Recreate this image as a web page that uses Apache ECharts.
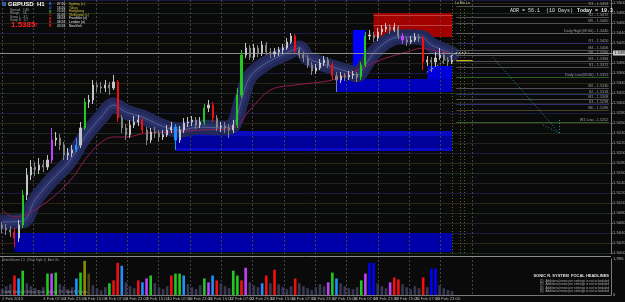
<!DOCTYPE html>
<html><head><meta charset="utf-8">
<script src="https://cdn.jsdelivr.net/npm/echarts@6/dist/echarts.min.js"></script>
<style>html,body{margin:0;padding:0;background:#0a0a0a;}#c{width:625px;height:302px;}</style>
</head><body><div id="c"></div>
<script>
// ---------- DATA ----------
const dateLabels = ['2 Feb 2015','3 Feb 15:00','4 Feb 07:00','4 Feb 23:00','5 Feb 15:00','6 Feb 07:00','6 Feb 23:00','9 Feb 15:00','10 Feb 07:00','10 Feb 23:00','11 Feb 15:00','12 Feb 07:00','12 Feb 23:00','13 Feb 15:00','16 Feb 07:00','16 Feb 23:00','17 Feb 15:00','18 Feb 07:00','18 Feb 23:00','19 Feb 15:00','20 Feb 07:00','20 Feb 23:00'];
const totalSlots = 148;
const opens = [1.5056,1.5050,1.5046,1.5042,1.5030,1.5056,1.5116,1.5156,1.5172,1.5166,
 1.5176,1.5172,1.5186,1.5226,1.5230,1.5216,1.5196,1.5200,1.5206,1.5216,
 1.5250,1.5302,1.5306,1.5336,1.5332,1.5330,1.5336,1.5330,1.5342,1.5270,
 1.5250,1.5236,1.5256,1.5262,1.5266,1.5246,1.5226,1.5242,1.5240,1.5232,
 1.5236,1.5246,1.5252,1.5226,1.5246,1.5260,1.5262,1.5266,1.5256,1.5262,
 1.5290,1.5296,1.5270,1.5252,1.5254,1.5250,1.5246,1.5256,1.5316,1.5396,
 1.5410,1.5392,1.5410,1.5400,1.5416,1.5402,1.5398,1.5402,1.5406,1.5410,
 1.5422,1.5434,1.5406,1.5396,1.5390,1.5376,1.5364,1.5370,1.5380,1.5386,
 1.5376,1.5354,1.5346,1.5354,1.5352,1.5356,1.5358,1.5352,1.5376,1.5434,
 1.5436,1.5430,1.5442,1.5448,1.5452,1.5446,1.5452,1.5434,1.5426,1.5422,
 1.5426,1.5432,1.5430,1.5382,1.5386,1.5382,1.5390,1.5396,1.5386,1.5382];
const closes = [1.5050,1.5046,1.5042,1.5030,1.5056,1.5116,1.5156,1.5172,1.5166,1.5176,
 1.5172,1.5186,1.5226,1.5230,1.5216,1.5196,1.5200,1.5206,1.5216,1.5250,
 1.5302,1.5306,1.5336,1.5332,1.5330,1.5336,1.5330,1.5342,1.5270,1.5250,
 1.5236,1.5256,1.5262,1.5266,1.5246,1.5226,1.5242,1.5240,1.5232,1.5236,
 1.5246,1.5252,1.5226,1.5246,1.5260,1.5262,1.5266,1.5256,1.5262,1.5290,
 1.5296,1.5270,1.5252,1.5254,1.5250,1.5246,1.5256,1.5316,1.5396,1.5410,
 1.5392,1.5410,1.5400,1.5416,1.5402,1.5398,1.5402,1.5406,1.5410,1.5422,
 1.5434,1.5406,1.5396,1.5390,1.5376,1.5364,1.5370,1.5380,1.5386,1.5376,
 1.5354,1.5346,1.5354,1.5352,1.5356,1.5358,1.5352,1.5376,1.5434,1.5436,
 1.5430,1.5442,1.5448,1.5452,1.5446,1.5452,1.5434,1.5426,1.5422,1.5426,
 1.5432,1.5430,1.5382,1.5386,1.5382,1.5390,1.5396,1.5386,1.5382,1.53857];
const lows = [1.5040,1.5036,1.5032,1.5012,1.5022,1.5050,1.5106,1.5146,1.5154,1.5158,
 1.5162,1.5166,1.5180,1.5214,1.5206,1.5186,1.5186,1.5192,1.5202,1.5210,
 1.5246,1.5290,1.5298,1.5322,1.5320,1.5322,1.5316,1.5326,1.5262,1.5240,
 1.5226,1.5230,1.5250,1.5254,1.5238,1.5216,1.5220,1.5230,1.5222,1.5226,
 1.5232,1.5240,1.5206,1.5220,1.5240,1.5252,1.5254,1.5248,1.5250,1.5256,
 1.5282,1.5262,1.5244,1.5242,1.5240,1.5230,1.5240,1.5250,1.5310,1.5390,
 1.5386,1.5386,1.5392,1.5394,1.5396,1.5390,1.5392,1.5394,1.5398,1.5406,
 1.5418,1.5400,1.5390,1.5382,1.5370,1.5356,1.5358,1.5366,1.5374,1.5370,
 1.5346,1.5322,1.5340,1.5344,1.5346,1.5348,1.5342,1.5346,1.5372,1.5426,
 1.5422,1.5424,1.5436,1.5442,1.5438,1.5442,1.5428,1.5418,1.5414,1.5418,
 1.5422,1.5422,1.5366,1.5374,1.5362,1.5374,1.5386,1.5378,1.5374,1.5378];
const highs = [1.5062,1.5058,1.5054,1.5050,1.5066,1.5126,1.5170,1.5186,1.5182,1.5190,
 1.5186,1.5196,1.5250,1.5242,1.5238,1.5222,1.5210,1.5216,1.5230,1.5262,
 1.5310,1.5316,1.5346,1.5342,1.5342,1.5346,1.5342,1.5356,1.5346,1.5276,
 1.5258,1.5266,1.5274,1.5276,1.5270,1.5252,1.5250,1.5252,1.5246,1.5246,
 1.5256,1.5262,1.5258,1.5254,1.5270,1.5272,1.5274,1.5272,1.5272,1.5298,
 1.5306,1.5302,1.5276,1.5262,1.5262,1.5258,1.5266,1.5330,1.5406,1.5420,
 1.5416,1.5418,1.5416,1.5424,1.5422,1.5410,1.5410,1.5412,1.5418,1.5430,
 1.5440,1.5438,1.5412,1.5402,1.5396,1.5382,1.5378,1.5388,1.5394,1.5392,
 1.5382,1.5362,1.5362,1.5360,1.5364,1.5364,1.5362,1.5382,1.5442,1.5446,
 1.5442,1.5450,1.5456,1.5460,1.5458,1.5460,1.5456,1.5440,1.5432,1.5434,
 1.5440,1.5438,1.5434,1.5394,1.5392,1.5402,1.5410,1.5402,1.5392,1.5396];
const candleHiIdx = [3,5,12,18,20,28,34,42,49,51,57,58,71,80,87,88,97,102];
const candleHiCol = ['R','G','M','B','G','R','R','B','G','R','G','G','R','R','G','G','M','R'];

const bandIdx = [0,5,8,12,16,20,24,27,30,34,37,40,43,46,48,53,56,58,60,64,69,72,74,77,80,84,86,88,90,93,96,100,102,104,108,109];
const bandVal = [1.5062,1.5064,1.5106,1.5146,1.5180,1.5232,1.5272,1.5296,1.5282,1.5272,1.5260,1.5250,1.5246,1.5250,1.5252,1.5250,1.5256,1.5306,1.5352,1.5380,1.5400,1.5410,1.5390,1.5380,1.5372,1.5362,1.5356,1.5376,1.5400,1.5422,1.5432,1.5432,1.5430,1.5416,1.5402,1.5398];
const maIdx = [0,3,8,16,22,27,30,35,41,48,56,60,65,71,80,87,93,98,102,104,108,109];
const maVal = [1.5086,1.5072,1.5086,1.5140,1.5206,1.5232,1.5232,1.5240,1.5242,1.5246,1.5250,1.5286,1.5326,1.5336,1.5346,1.5370,1.5390,1.5402,1.5410,1.5406,1.5400,1.5398];

const volumes = [324,486,594,1080,918,1350,648,486,378,270,
 432,1188,1188,1242,594,486,324,432,918,1242,
 1890,1188,540,378,270,432,648,810,1782,1620,
 702,486,378,810,702,918,1080,648,432,324,
 486,1080,1188,1188,1080,594,432,324,540,918,
 702,1080,810,648,486,378,1350,1080,810,1512,
 702,540,432,648,1080,648,1404,594,432,324,
 486,918,648,486,378,270,432,594,486,702,
 1242,918,648,486,378,324,432,810,1188,1782,
 1782,648,486,378,702,972,864,594,432,324,
 486,378,972,432,1458,1458,540,378,270,216];
const volHiIdx = [3,4,5,11,12,13,18,19,20,21,26,27,28,29,33,34,35,36,41,42,43,44,49,50,51,52,56,57,58,59,63,64,66,71,79,80,81,87,88,89,90,94,95,96,102,104,105];
const volHiCol = ['R','B','G','G','M','G','B','G','O','D','G','R','R','B','R','B','M','G','R','G','G','B','G','M','B','R','G','G','R','M','B','R','R','R','M','G','B','G','M','X','X','M','R','R','R','X','X'];

const zoneFrom  = [3, 42, 42, 81, 103, 85, 90];
const zoneTo    = [109, 109, 109, 109, 109, 88, 109];
const zoneHigh  = [1.5040, 1.5244, 1.5234, 1.5348, 1.5374, 1.5446, 1.5480];
const zoneLow   = [1.5002, 1.5204, 1.5210, 1.5322, 1.5348, 1.5348, 1.5432];
const zoneColor = ['#0000a8', '#0a0ac4', '#00009a', '#0000bc', '#0000dc', '#0000ff', '#a30000'];

const levelPrices = [1.5494,1.5472,1.5460,1.5440,1.5420,1.5406,1.5396,1.5384,1.5372,1.5352,1.5330,1.5318,1.5308,1.5298,1.5286,1.5262];
const levelLabels = ['R3 - 1.5494','R2 - 1.5472','M5 - 1.5460','Daily High(09:00) - 1.5440','R1 - 1.5420','M4 - 1.5406','PP - 1.5396','M3 - 1.5384','S1 - 1.5372','Daily Low(03:00) - 1.5352','M2 - 1.5330','S2 - 1.5318','M1 - 1.5308','S3 - 1.5298','M0 - 1.5286','W1 Low - 1.5262'];
const levelColors = ['#505050','#505050','#505050','#606060','#30306e','#505050','#606060','#505050','#505050','#2a602a','#505050','#30306e','#505050','#30306e','#504028','#2a602a'];

const hudTimes = ['07:26','16:26','15:26','05:26','08:26','08:26','03:26'];
const hudSessions = ['Sydney (c)','Tokyo','Hongkong','Wellington (c)','Frankfurt (o)','London (o)','NewYork'];
const hudLetters = ['B','U','R','C','R','A','R'];
const hudStats = ['Spread   1.80','Range    56','Swap L  -3.1','Swap S   0.7'];
const newsLines = ['(1)  Additional news per settings is not scheduled','(2)  Additional news per settings is not scheduled','(3)  Additional news per settings is not scheduled','(4)  Additional news per settings is not scheduled'];

// ---------- BUILD ----------
const pal = {R:'#f01010', G:'#20c820', B:'#1e90ff', M:'#c040ff', O:'#8c8c00', D:'#4a4a10', X:'#0000ff'};
const categories = Array.from({length: totalSlots}, (_, i) => String(i));
const candleData = opens.map((o, i) => {
  const k = candleHiIdx.indexOf(i);
  const item = {value: [o, closes[i], lows[i], highs[i]]};
  if (k >= 0) { const c = pal[candleHiCol[k]]; item.itemStyle = {color:c, color0:c, borderColor:c, borderColor0:c}; }
  return item;
});
const volData = volumes.map((v, i) => {
  const k = volHiIdx.indexOf(i);
  return {value: v, itemStyle: {color: k >= 0 ? pal[volHiCol[k]] : '#383852'}};
});
const bandData = bandIdx.map((x, k) => [x, bandVal[k]]);
const maData = maIdx.map((x, k) => [x, maVal[k]]);
const last = closes[closes.length - 1];
const lastIdx = closes.length - 1;

const zoneData = zoneFrom.map((f, k) => [
  {xAxis: f, yAxis: zoneHigh[k], itemStyle: {color: zoneColor[k], opacity: 1}},
  {xAxis: zoneTo[k], yAxis: zoneLow[k]}
]);

const lineData = [];
levelPrices.forEach((p, k) => {
  lineData.push([
    {coord: [lastIdx + 1, p], lineStyle: {color: levelColors[k], width: 1, type: 'solid'},
     label: {show: true, position: 'insideEndTop', formatter: levelLabels[k], color: '#9c9c9c', fontSize: 3.8, distance: 0.5}},
    {coord: [totalSlots - 1, p]}
  ]);
});
[1.5476, 1.5456].forEach(p => lineData.push([{coord: [zoneFrom[6], p], lineStyle: {color: '#c04040', width: 1, type: 'solid'}}, {coord: [zoneTo[6], p]}]));
[109, 111, 112].forEach(x => lineData.push({xAxis: x, lineStyle: {color: '#5e5e1c', width: 1, type: [1, 2]}}));
lineData.push({yAxis: last, lineStyle: {color: '#8a8a8a', width: 1, type: 'solid'},
  label: {show: true, position: 'end', formatter: last.toFixed(5), backgroundColor: '#d0d0d0', color: '#000', fontSize: 4.2, padding: [1, 1, 0, 1], distance: 2}});
lineData.push([{coord: [lastIdx + 1, last], lineStyle: {color: '#c8b400', width: 1, type: 'solid'}}, {coord: [lastIdx + 5, last]}]);
const teal = {color: '#2a8fa0', width: 1, type: [1, 2]};
lineData.push([{coord: [118, 1.5400], lineStyle: teal}, {coord: [135, 1.5240]}]);
lineData.push([{coord: [131, 1.5256], lineStyle: teal}, {coord: [135, 1.5240]}]);
lineData.push([{coord: [135, 1.5266], lineStyle: teal}, {coord: [135, 1.5240]}]);
const wz = {color: '#d8f4ff', width: 1, type: [1, 2]};
lineData.push([{coord: [103, 1.5362], lineStyle: wz}, {coord: [110, 1.5400]}]);
lineData.push([{coord: [110, 1.5400], lineStyle: wz}, {coord: [113, 1.5402]}]);

const F = 'Liberation Sans';
const g = [];
const txt = (x, y, text, fill, font, align) => g.push({type: 'text', x, y, z: 100, silent: true,
  style: {text, fill, font, textAlign: align || 'left', textVerticalAlign: 'top'}});
g.push({type: 'rect', shape: {x: 2, y: 2, width: 4, height: 4}, style: {fill: '#3a5aa0'}, z: 100});
txt(8, 1, 'GBPUSD  H1', '#ffffff', 'bold 6px "' + F + '"');
hudStats.forEach((s, k) => txt(10, 8.5 + k * 3.4, s, '#a0a0a0', '3.2px "' + F + '"'));
txt(11, 21, '1.5385', '#ff2020', 'bold 8px "' + F + '"');
txt(35, 23, '7', '#ff2020', '5px "' + F + '"');
const letterCol = ['#3070ff','#3070ff','#20c020','#ff2020','#ff2020','#ff2020','#ff2020'];
hudLetters.forEach((s, k) => txt(49, 2.5 + k * 3.6, s, letterCol[k], 'bold 3.5px "' + F + '"'));
hudTimes.forEach((s, k) => txt(57, 2.5 + k * 3.6, s, '#e0e0e0', '3.3px "' + F + '"'));
hudSessions.forEach((s, k) => txt(69, 2.5 + k * 3.6, s, k < 4 ? '#d0c040' : '#e0e0e0', '3.3px "' + F + '"'));
txt(510, 8, 'ADR = 56.1  (10 Days)', '#e0e0e0', '5px "Liberation Mono"');
txt(577, 8, 'Today = 19.3', '#f0f0f0', 'bold 5px "Liberation Mono"');
txt(455, 1, 'Lo Mo Lo', '#c8c8a8', '3.5px "' + F + '"');
txt(2, 259, 'BetterVolume 1.5  (Chart Style 1)  Alert On', '#9a9a9a', '3px "' + F + '"');
txt(2, 291, 'Candle Time Left: 34 min 12 sec   Spread: 1.8   Sonic R. Signals', '#9a9a9a', '3px "' + F + '"');
txt(609, 274, 'SONIC R. SYSTEM  FOCAL HEADLINES', '#e0e0e0', 'bold 4px "' + F + '"', 'right');
newsLines.forEach((s, k) => txt(609, 279.5 + k * 3.5, s, '#a8a8a8', '3.2px "' + F + '"', 'right'));
g.push({type: 'line', shape: {x1: 0, y1: 256.5, x2: 611, y2: 256.5}, style: {stroke: '#8c8c8c', lineWidth: 1}, z: 100});

const chart = echarts.init(document.getElementById('c'), null, {renderer: 'canvas'});
chart.setOption({
  backgroundColor: '#0a0a0a',
  animation: false,
  textStyle: {fontFamily: F},
  graphic: g,
  grid: [
    {left: 0, top: 0, width: 611, height: 253, outerBoundsMode: 'none'},
    {left: 0, top: 259, width: 611, height: 36, outerBoundsMode: 'none'},
    {left: 2, top: 0, width: 470, height: 295, outerBoundsMode: 'none'}
  ],
  xAxis: [
    {type: 'category', gridIndex: 0, data: categories, boundaryGap: true,
     axisLine: {show: false}, axisTick: {show: false}, axisLabel: {show: false}, splitLine: {show: false}},
    {type: 'category', gridIndex: 1, data: categories, boundaryGap: true,
     axisLine: {show: true, lineStyle: {color: '#7a7a7a'}}, axisTick: {show: false},
     axisLabel: {interval: 4, showMinLabel: true, fontSize: 4.2, color: '#b0b0b0', align: 'left', margin: 2,
       formatter: (v, idx) => dateLabels[idx / 5] || ''}, splitLine: {show: false}},
    {type: 'value', gridIndex: 2, min: 0, max: 15, interval: 1, z: 2,
     axisLine: {show: false}, axisTick: {show: false}, axisLabel: {show: false},
     splitLine: {show: true, lineStyle: {color: '#444444', width: 1, type: [2, 2]}}}
  ],
  yAxis: [
    {type: 'value', gridIndex: 0, position: 'right', min: 1.5000, max: 1.5506, interval: 0.002,
     axisLine: {show: true, lineStyle: {color: '#7a7a7a'}}, axisTick: {show: true, length: 2, lineStyle: {color: '#7a7a7a'}},
     axisLabel: {fontSize: 4.2, color: '#b0b0b0', margin: 2, showMaxLabel: false, formatter: v => v.toFixed(5)},
     splitLine: {show: true, lineStyle: {color: ['#1a2c1a', '#2c2418', '#1a1a40', '#222222'], width: 1}}},
    {type: 'value', gridIndex: 1, position: 'right', min: 0, max: 1996, interval: 1996,
     axisLine: {show: true, lineStyle: {color: '#7a7a7a'}}, axisTick: {show: false},
     axisLabel: {fontSize: 4.2, color: '#b0b0b0', margin: 2}, splitLine: {show: false}},
    {type: 'value', gridIndex: 2, min: 0, max: 1, show: false}
  ],
  series: [
    {type: 'line', name: 'zones', xAxisIndex: 0, yAxisIndex: 0, data: closes, showSymbol: false, silent: true,
     lineStyle: {opacity: 0}, z: 1,
     markArea: {silent: true, data: zoneData},
     markLine: {silent: true, symbol: ['none', 'none'], label: {show: false}, data: lineData}},
    {type: 'scatter', xAxisIndex: 2, yAxisIndex: 2, data: [], silent: true},
    {type: 'line', name: 'bandOuter', data: bandData, smooth: 0.35, showSymbol: false, silent: true, z: 3,
     lineStyle: {color: '#222857', width: 15, cap: 'round', join: 'round'}},
    {type: 'line', name: 'bandInner', data: bandData, smooth: 0.35, showSymbol: false, silent: true, z: 3,
     lineStyle: {color: '#2a3168', width: 7, join: 'round'}},
    {type: 'line', name: 'bandMid', data: bandData, smooth: 0.35, showSymbol: false, silent: true, z: 3,
     lineStyle: {color: '#565e92', width: 1}},
    {type: 'line', name: 'ma', data: maData, smooth: 0.35, showSymbol: false, silent: true, z: 4,
     lineStyle: {color: '#8e1c50', width: 1}},
    {type: 'candlestick', name: 'GBPUSD', data: candleData, barWidth: 1.6, z: 5,
     itemStyle: {color: '#c4c4c4', color0: '#848484', borderColor: '#c4c4c4', borderColor0: '#848484', borderWidth: 1}},
    {type: 'bar', name: 'volume', xAxisIndex: 1, yAxisIndex: 1, data: volData, barWidth: 2.6, z: 2}
  ]
});
</script></body></html>
